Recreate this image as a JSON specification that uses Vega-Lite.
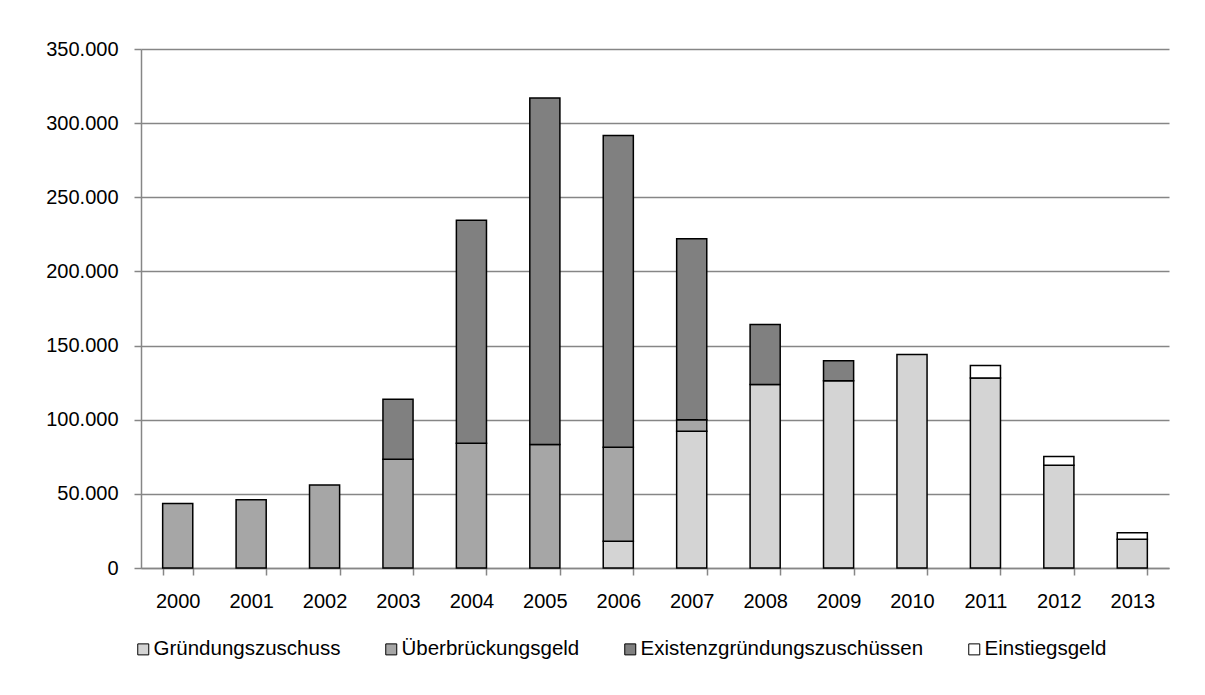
{
  "$schema": "https://vega.github.io/schema/vega-lite/v6.json",
  "width": 1028,
  "height": 519,
  "autosize": {"type": "none"},
  "padding": {"left": 141, "top": 49, "right": 36, "bottom": 127},
  "background": "white",
  "data": {
    "values": [
      {"year": "2000", "category": "Überbrückungsgeld", "value": 43500},
      {"year": "2001", "category": "Überbrückungsgeld", "value": 46000},
      {"year": "2002", "category": "Überbrückungsgeld", "value": 56000},
      {"year": "2003", "category": "Überbrückungsgeld", "value": 73400},
      {"year": "2003", "category": "Existenzgründungszuschüssen", "value": 40400},
      {"year": "2004", "category": "Überbrückungsgeld", "value": 84100},
      {"year": "2004", "category": "Existenzgründungszuschüssen", "value": 150400},
      {"year": "2005", "category": "Überbrückungsgeld", "value": 83300},
      {"year": "2005", "category": "Existenzgründungszuschüssen", "value": 233700},
      {"year": "2006", "category": "Gründungszuschuss", "value": 18100},
      {"year": "2006", "category": "Überbrückungsgeld", "value": 63400},
      {"year": "2006", "category": "Existenzgründungszuschüssen", "value": 210100},
      {"year": "2007", "category": "Gründungszuschuss", "value": 92200},
      {"year": "2007", "category": "Überbrückungsgeld", "value": 7700},
      {"year": "2007", "category": "Existenzgründungszuschüssen", "value": 122100},
      {"year": "2008", "category": "Gründungszuschuss", "value": 123700},
      {"year": "2008", "category": "Existenzgründungszuschüssen", "value": 40500},
      {"year": "2009", "category": "Gründungszuschuss", "value": 126200},
      {"year": "2009", "category": "Existenzgründungszuschüssen", "value": 13500},
      {"year": "2010", "category": "Gründungszuschuss", "value": 143900},
      {"year": "2011", "category": "Gründungszuschuss", "value": 128200},
      {"year": "2011", "category": "Einstiegsgeld", "value": 8300},
      {"year": "2012", "category": "Gründungszuschuss", "value": 69300},
      {"year": "2012", "category": "Einstiegsgeld", "value": 5900},
      {"year": "2013", "category": "Gründungszuschuss", "value": 19400},
      {"year": "2013", "category": "Einstiegsgeld", "value": 4300}
    ]
  },
  "transform": [
    {"calculate": "indexof(['Gründungszuschuss','Überbrückungsgeld','Existenzgründungszuschüssen','Einstiegsgeld'], datum.category)", "as": "stackOrder"}
  ],
  "mark": {"type": "bar", "stroke": "black", "strokeWidth": 1.5},
  "encoding": {
    "x": {
      "field": "year",
      "type": "ordinal",
      "scale": {"paddingInner": 0.59, "paddingOuter": 0.295},
      "axis": {
        "title": null,
        "labelAngle": 0,
        "tickBand": "extent",
        "ticks": true,
        "tickSize": 7,
        "tickWidth": 1.5,
        "tickColor": "#868686",
        "domainColor": "#868686",
        "domainWidth": 1.5,
        "labelPadding": 16,
        "labelFont": "Liberation Sans",
        "labelFontSize": 20,
        "labelColor": "black",
        "grid": false
      }
    },
    "y": {
      "field": "value",
      "type": "quantitative",
      "stack": "zero",
      "scale": {"domain": [0, 350000], "nice": false},
      "axis": {
        "title": null,
        "values": [0, 50000, 100000, 150000, 200000, 250000, 300000, 350000],
        "format": ",d",
        "tickSize": 7,
        "tickWidth": 1.5,
        "tickColor": "#868686",
        "domainColor": "#868686",
        "domainWidth": 1.5,
        "gridColor": "#868686",
        "gridWidth": 1.3,
        "labelPadding": 16,
        "labelFont": "Liberation Sans",
        "labelFontSize": 20,
        "labelColor": "black"
      }
    },
    "order": {"field": "stackOrder", "type": "quantitative", "sort": "ascending"},
    "color": {
      "field": "category",
      "type": "nominal",
      "sort": ["Gründungszuschuss", "Überbrückungsgeld", "Existenzgründungszuschüssen", "Einstiegsgeld"],
      "scale": {
        "domain": ["Gründungszuschuss", "Überbrückungsgeld", "Existenzgründungszuschüssen", "Einstiegsgeld"],
        "range": ["#d4d4d4", "#a6a6a6", "#808080", "#ffffff"]
      },
      "legend": {
        "title": null,
        "orient": "none",
        "legendX": -8,
        "legendY": 590,
        "direction": "horizontal",
        "symbolType": "square",
        "symbolSize": 121,
        "symbolStrokeColor": "black",
        "symbolStrokeWidth": 1,
        "symbolOpacity": 1,
        "labelFont": "Liberation Sans",
        "labelFontSize": 20.5,
        "labelColor": "black",
        "labelOffset": 0,
        "columnPadding": 40,
        "labelLimit": 400
      }
    }
  },
  "config": {
    "locale": {
      "number": {"decimal": ",", "thousands": ".", "grouping": [3], "currency": ["", " €"]}
    },
    "view": {"stroke": null}
  }
}
